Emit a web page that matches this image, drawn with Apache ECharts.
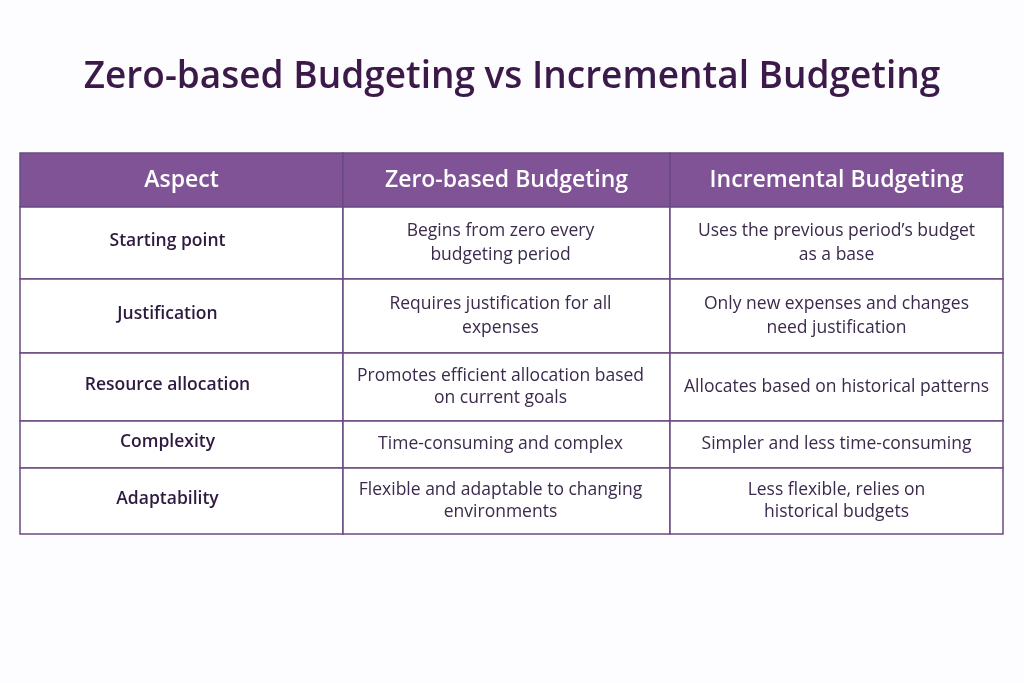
<!DOCTYPE html>
<html>
<head>
<meta charset="utf-8">
<title>Zero-based Budgeting vs Incremental Budgeting</title>
<script src="https://cdn.jsdelivr.net/npm/echarts@6/dist/echarts.min.js"></script>
<style>
html, body { margin: 0; padding: 0; background: #fdfcfe; }
#main { width: 1024px; height: 683px; }
</style>
</head>
<body>
<div id="main"></div>
<script type="text/javascript">
// table content
var titleText = 'Zero-based Budgeting vs Incremental Budgeting';
var headers = ['Aspect', 'Zero-based Budgeting', 'Incremental Budgeting'];
var aspects = ['Starting point', 'Justification', 'Resource allocation', 'Complexity', 'Adaptability'];
var zeroBased = [
	'Begins from zero every\nbudgeting period',
	'Requires justification for all\nexpenses',
	'Promotes efficient allocation based\non current goals',
	'Time-consuming and complex',
	'Flexible and adaptable to changing\nenvironments'
];
var incremental = [
	'Uses the previous period\u2019s budget\nas a base',
	'Only new expenses and changes\nneed justification',
	'Allocates based on historical patterns',
	'Simpler and less time-consuming',
	'Less flexible, relies on\nhistorical budgets'
];

// layout (axis units): column widths and row heights
var colWidths = [323, 327, 333];
var rowHeights = [54, 72, 74, 68, 47, 66];

function edges(arr) {
	var out = [0];
	for (var i = 0; i < arr.length; i++) out.push(out[i] + arr[i]);
	return out;
}
var colEdges = edges(colWidths);
var rowEdges = edges(rowHeights);

// one item per cell: [col, row, text]
var cells = [];
var columns = [aspects, zeroBased, incremental];
for (var c = 0; c < headers.length; c++) {
	cells.push([c, 0, headers[c]]);
	for (var r = 0; r < aspects.length; r++) {
		cells.push([c, r + 1, columns[c][r]]);
	}
}

var myChart = echarts.init(document.getElementById('main'));

function renderCell(params, api) {
	var c = api.value(0);
	var r = api.value(1);
	var text = cells[params.dataIndex][2];
	var p0 = api.coord([colEdges[c], rowEdges[r]]);
	var p1 = api.coord([colEdges[c + 1], rowEdges[r + 1]]);
	var x = p0[0], y = p0[1], w = p1[0] - p0[0], h = p1[1] - p0[1];
	var isHead = r === 0;
	var isLabel = c === 0 && !isHead;
	var xShift = isLabel ? -14 : (c === 1 && !isHead ? -6 : 0);
	var yShift = isLabel ? -2 : 0;
	return {
		type: 'group',
		children: [{
			type: 'rect',
			shape: { x: x, y: y, width: w, height: h },
			style: {
				fill: isHead ? '#7f5396' : '#ffffff',
				stroke: '#6b4a82',
				lineWidth: 1.5
			}
		}, {
			type: 'text',
			style: {
				text: text,
				x: x + w / 2 + xShift,
				y: y + h / 2 + yShift,
				align: 'center',
				verticalAlign: 'middle',
				fontFamily: 'Open Sans',
				fontSize: isHead ? 23 : 17.5,
				fontWeight: isHead ? 600 : (isLabel ? 600 : 400),
				lineHeight: r >= 3 ? 22 : 24,
				fill: isHead ? '#ffffff' : (isLabel ? '#2f1a3f' : '#3b2a4c')
			}
		}]
	};
}

var option = {
	backgroundColor: '#fdfcfe',
	animation: false,
	title: {
		text: titleText,
		left: 'center',
		top: 54,
		textStyle: {
			fontFamily: 'Open Sans',
			fontSize: 37,
			fontWeight: 600,
			color: '#3b1a4a'
		}
	},
	grid: { left: 20, right: 21, top: 153, bottom: 149 },
	xAxis: {
		type: 'value', min: 0, max: colEdges[colEdges.length - 1], show: false
	},
	yAxis: {
		type: 'value', min: 0, max: rowEdges[rowEdges.length - 1], inverse: true, show: false
	},
	series: [{
		type: 'custom',
		renderItem: renderCell,
		encode: { x: 0, y: 1 },
		data: cells.map(function (d) { return [d[0], d[1]]; })
	}]
};
myChart.setOption(option);
</script>
</body>
</html>
